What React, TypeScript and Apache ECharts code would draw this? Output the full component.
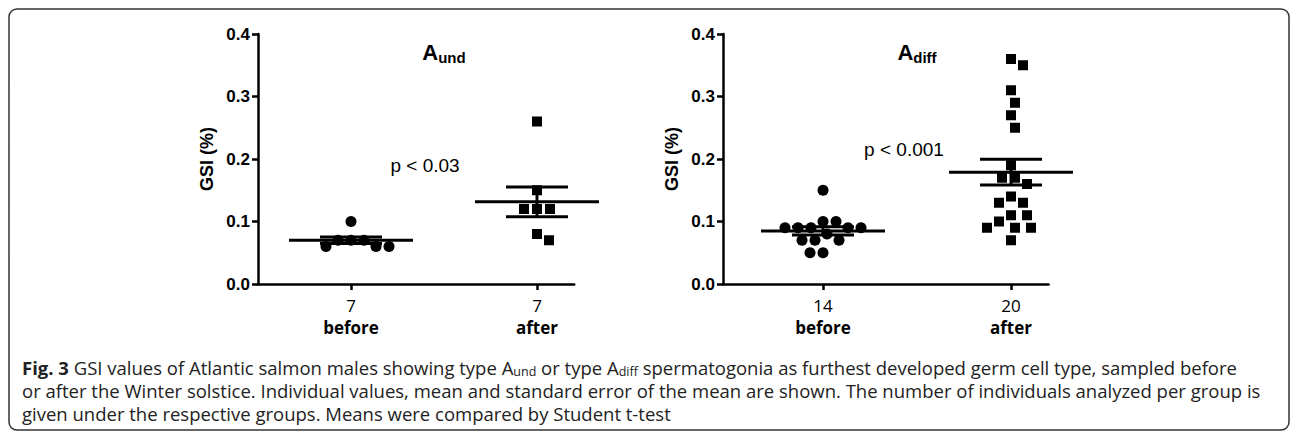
import React, { useEffect, useRef } from "react";
import * as echarts from "echarts";

// ---- data ----
const GROUPS = ["before", "after"];
const AUND_BEFORE = [0.10, 0.07, 0.07, 0.07, 0.06, 0.06, 0.06];
const AUND_AFTER = [0.26, 0.15, 0.12, 0.12, 0.12, 0.08, 0.07];
const ADIFF_BEFORE = [0.15, 0.10, 0.10, 0.09, 0.09, 0.09, 0.09, 0.09, 0.08, 0.07, 0.07, 0.07, 0.05, 0.05];
const ADIFF_AFTER = [0.36, 0.35, 0.31, 0.29, 0.27, 0.25, 0.19, 0.17, 0.17, 0.16, 0.14, 0.13, 0.13, 0.11, 0.11, 0.10, 0.09, 0.09, 0.09, 0.07];
const Y_MIN = 0;
const Y_MAX = 0.4;
const Y_STEP = 0.1;
const P_TEXTS = ["p < 0.03", "p < 0.001"];
const CAPTION = [
  "{b|Fig. 3} GSI values of Atlantic salmon males showing type A{s|und} or type A{s|diff} spermatogonia as furthest developed germ cell type, sampled before",
  "or after the Winter solstice. Individual values, mean and standard error of the mean are shown. The number of individuals analyzed per group is",
  "given under the respective groups. Means were compared by Student t-test",
];

// ---- layout ----
const PLOT_TOP = 34;
const PLOT_H = 250;
const PX_PER_Y = PLOT_H / (Y_MAX - Y_MIN);
const PANELS = [
  { left: 258, pxPerX: 186, min: 0.5, max: 2.2, title: "und", titleX: 444, pX: 425, pY: 0.19 },
  { left: 723, pxPerX: 188, min: 0.468, max: 2.2, title: "diff", titleX: 917, pX: 904, pY: 0.215 },
];

function mean(a: number[]) {
  return a.reduce((s, v) => s + v, 0) / a.length;
}
function sem(a: number[]) {
  const m = mean(a);
  const v = a.reduce((s, x) => s + (x - m) * (x - m), 0) / (a.length - 1);
  return Math.sqrt(v) / Math.sqrt(a.length);
}

// simple beeswarm: returns x offsets (in axis units) so markers don't overlap
function swarm(values: number[], pxPerX: number, diam: number) {
  const placed: { dx: number; y: number }[] = [];
  const out: number[] = [];
  values.forEach((v) => {
    const y = v * PX_PER_Y;
    let chosen = 0;
    for (let k = 0; k < 400; k++) {
      const cands = k === 0 ? [0] : [k, -k];
      let ok = false;
      for (const dx of cands) {
        if (placed.every((p) => (dx - p.dx) ** 2 + (y - p.y) ** 2 >= diam * diam)) {
          chosen = dx;
          ok = true;
          break;
        }
      }
      if (ok) break;
    }
    placed.push({ dx: chosen, y });
    out.push(chosen / pxPerX);
  });
  return out;
}

const FONT = "'Liberation Sans', Arial, sans-serif";
const CAP_FONT = "'Open Sans', 'Noto Sans', sans-serif";

export default function App() {
  const ref = useRef<HTMLDivElement>(null);
  useEffect(() => {
    if (!ref.current) return;
    const chart = echarts.init(ref.current, undefined, { renderer: "svg" });

    const panelsData = [
      [AUND_BEFORE, AUND_AFTER],
      [ADIFF_BEFORE, ADIFF_AFTER],
    ];

    const grids: any[] = [];
    const xAxes: any[] = [];
    const yAxes: any[] = [];
    const series: any[] = [];
    const graphics: any[] = [];

    PANELS.forEach((p, i) => {
      const width = (p.max - p.min) * p.pxPerX;
      grids.push({ left: p.left, top: PLOT_TOP, width, height: PLOT_H });
      const ns = panelsData[i].map((g) => String(g.length));
      xAxes.push({
        type: "value",
        gridIndex: i,
        min: p.min,
        max: p.max,
        splitLine: { show: false },
        axisLine: { show: true, lineStyle: { color: "#000", width: 2.5 } },
        axisTick: { show: true, customValues: [1, 2], length: 6, lineStyle: { color: "#000", width: 2.5 } },
        axisLabel: {
          customValues: [1, 2],
          margin: 11,
          formatter: (v: number) => {
            const idx = Math.round(v) - 1;
            return `{n|${ns[idx]}}\n{b|${GROUPS[idx]}}`;
          },
          rich: {
            n: { fontSize: 17, fontFamily: CAP_FONT, color: "#000", lineHeight: 20 },
            b: { fontSize: 17, fontFamily: CAP_FONT, fontWeight: "bold", color: "#000", lineHeight: 24 },
          },
        },
      });
      yAxes.push({
        type: "value",
        gridIndex: i,
        min: Y_MIN,
        max: Y_MAX,
        interval: Y_STEP,
        name: "GSI (%)",
        nameLocation: "middle",
        nameGap: 42,
        nameTextStyle: { fontSize: 18, fontWeight: "bold", fontFamily: FONT, color: "#000" },
        splitLine: { show: false },
        axisLine: { show: true, lineStyle: { color: "#000", width: 2.5 } },
        axisTick: { show: true, length: 6, lineStyle: { color: "#000", width: 2.5 } },
        axisLabel: {
          fontSize: 17,
          fontWeight: "bold",
          fontFamily: FONT,
          color: "#000",
          margin: 8,
          formatter: (v: number) => v.toFixed(1),
        },
      });

      panelsData[i].forEach((vals, gi) => {
        const offs = swarm(vals, p.pxPerX, 13);
        series.push({
          type: "scatter",
          xAxisIndex: i,
          yAxisIndex: i,
          symbol: gi === 0 ? "circle" : "rect",
          symbolSize: gi === 0 ? 11 : 10,
          itemStyle: { color: "#000", opacity: 1 },
          data: vals.map((v, k) => [gi + 1 + offs[k], v]),
          z: 2,
        });
      });

      series.push({
        type: "custom",
        xAxisIndex: i,
        yAxisIndex: i,
        clip: false,
        z: 3,
        data: panelsData[i].map((vals, gi) => [gi + 1, mean(vals), sem(vals)]),
        renderItem: (params: any, api: any) => {
          const x = api.value(0);
          const m = api.value(1);
          const s = api.value(2);
          const c = api.coord([x, m]);
          const t = api.coord([x, m + s]);
          const b = api.coord([x, m - s]);
          const st = { stroke: "#000", lineWidth: 3 };
          return {
            type: "group",
            children: [
              { type: "line", shape: { x1: c[0] - 62, y1: c[1], x2: c[0] + 62, y2: c[1] }, style: st },
              { type: "line", shape: { x1: c[0], y1: t[1], x2: c[0], y2: b[1] }, style: st },
              { type: "line", shape: { x1: c[0] - 31, y1: t[1], x2: c[0] + 31, y2: t[1] }, style: st },
              { type: "line", shape: { x1: c[0] - 31, y1: b[1], x2: c[0] + 31, y2: b[1] }, style: st },
            ],
          };
        },
      });

      graphics.push({
        type: "text",
        x: p.titleX,
        y: 52,
        style: {
          text: `{a|A}{s|${p.title}}`,
          align: "center",
          verticalAlign: "middle",
          rich: {
            a: { fontSize: 22, fontWeight: "bold", fontFamily: FONT, fill: "#000" },
            s: { fontSize: 15, fontWeight: "bold", fontFamily: FONT, fill: "#000", padding: [10, 0, 0, 0] },
          },
        },
      });
      graphics.push({
        type: "text",
        x: p.pX,
        y: PLOT_TOP + PLOT_H - p.pY * PX_PER_Y,
        style: {
          text: P_TEXTS[i],
          align: "center",
          verticalAlign: "middle",
          fontSize: 19,
          fontFamily: FONT,
          fill: "#000",
        },
      });
    });

    graphics.push({
      type: "rect",
      shape: { x: 9, y: 9, width: 1280, height: 421, r: 8 },
      style: { fill: "none", stroke: "#333", lineWidth: 1.5 },
    });
    const capY = [367, 390, 413];
    CAPTION.forEach((line, i) => {
      graphics.push({
        type: "text",
        x: 22,
        y: capY[i],
        style: {
          text: line,
          verticalAlign: "middle",
          fontSize: 18.5,
          fontFamily: CAP_FONT,
          fill: "#222",
          rich: {
            b: { fontSize: 18.5, fontWeight: "bold", fontFamily: CAP_FONT, fill: "#222" },
            s: { fontSize: 12.5, fontFamily: CAP_FONT, fill: "#222", padding: [8, 0, 0, 0] },
          },
        },
      });
    });

    chart.setOption({
      animation: false,
      backgroundColor: "#fff",
      grid: grids,
      xAxis: xAxes,
      yAxis: yAxes,
      series,
      graphic: graphics,
    });
    return () => chart.dispose();
  }, []);

  return (
    <div
      ref={ref}
      style={{ position: "fixed", left: 0, top: 0, width: 1293, height: 432, background: "#fff" }}
    />
  );
}
